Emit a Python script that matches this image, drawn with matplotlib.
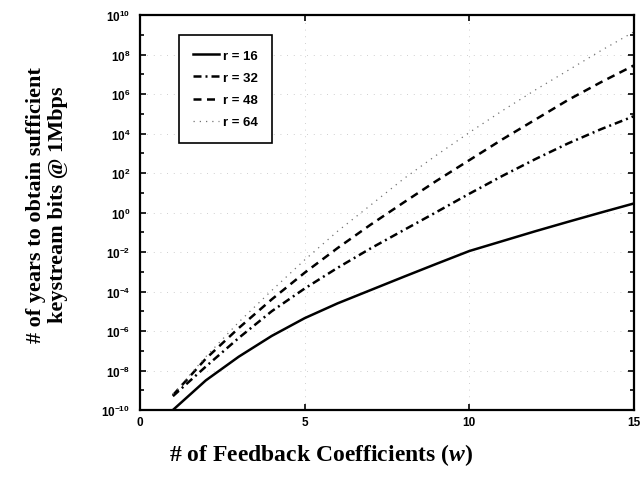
import numpy as np
import matplotlib
matplotlib.use('Agg')
import matplotlib.pyplot as plt

# values, as log10(years)
w = [1, 2, 3, 4, 5, 6, 7, 8, 9, 10, 11, 12, 13, 14, 15]
log_r16 = [-10.0, -8.5, -7.3, -6.25, -5.35, -4.6, -3.93, -3.26, -2.6, -1.95, -1.45, -0.95, -0.47, 0.0, 0.46]
log_r32 = [-9.3, -7.8, -6.35, -5.0, -3.85, -2.8, -1.82, -0.9, 0.02, 0.95, 1.85, 2.7, 3.5, 4.22, 4.88]
log_r48 = [-9.25, -7.4, -5.85, -4.4, -3.05, -1.8, -0.62, 0.5, 1.6, 2.65, 3.7, 4.7, 5.7, 6.6, 7.45]
log_r64 = [-9.2, -7.3, -5.55, -3.95, -2.4, -0.95, 0.37, 1.7, 2.9, 4.05, 5.15, 6.2, 7.2, 8.2, 9.15]
labels = ['r = 16', 'r = 32', 'r = 48', 'r = 64']

xticks = [0, 5, 10, 15]
ydec = list(range(-10, 11, 2))

plt.rcParams['mathtext.fontset'] = 'custom'
plt.rcParams['mathtext.rm'] = 'Liberation Sans'
plt.rcParams['mathtext.bf'] = 'Liberation Sans:bold'
plt.rcParams['mathtext.it'] = 'Liberation Serif:italic:bold'


def main():
    fig = plt.figure(figsize=(6.42, 4.81), dpi=100)
    ax = fig.add_axes([0.218, 0.1455, 0.7695, 0.8212])

    w_arr = np.array(w)
    ax.semilogy(w_arr, 10.0 ** np.array(log_r16), color='k', lw=1.8, ls='-', label=labels[0])
    ax.semilogy(w_arr, 10.0 ** np.array(log_r32), color='k', lw=1.8, ls=(0, (3.2, 1.6, 0.8, 1.6)), label=labels[1])
    ax.semilogy(w_arr, 10.0 ** np.array(log_r48), color='k', lw=1.8, ls=(0, (3.2, 2.2)), label=labels[2])
    ax.semilogy(w_arr, 10.0 ** np.array(log_r64), color='0.45', lw=0.9, ls=(0, (1, 4)), label=labels[3])

    ax.set_xlim(0, 15)
    ax.set_ylim(1e-10, 1e10)
    ax.set_xticks(xticks)
    ax.set_xticklabels([str(t) for t in xticks], fontweight='bold', fontsize=8.5, family='Liberation Sans')
    ax.set_yticks([10.0 ** d for d in ydec])
    ax.set_yticklabels([r'$\mathbf{10^{%d}}$' % d for d in ydec], fontsize=8.5)
    ax.set_yticks([10.0 ** d for d in range(-9, 10, 2)], minor=True)
    ax.set_yticklabels([], minor=True)
    ax.xaxis.set_minor_locator(matplotlib.ticker.NullLocator())
    ax.tick_params(which='both', direction='in', top=True, right=True, width=1.2)
    ax.tick_params(which='major', length=4, pad=4)
    ax.tick_params(axis='y', which='major', pad=7)
    ax.tick_params(which='minor', length=3)
    for s in ax.spines.values():
        s.set_linewidth(1.6)

    ax.grid(True, which='major', color='0.75', ls=(0, (1, 7)), lw=0.6)

    leg = ax.legend(loc='upper left', bbox_to_anchor=(0.079, 0.949), borderaxespad=0,
                    fancybox=False, edgecolor='k', framealpha=1, labelspacing=0.75,
                    handlelength=1.9, borderpad=1.1, handletextpad=0.3,
                    prop={'weight': 'bold', 'size': 9.5, 'family': 'Liberation Sans'})
    leg.get_frame().set_linewidth(1.2)

    fig.text(0.5, 0.054, r'# of Feedback Coefficients ($\mathit{w}$)', ha='center', va='center',
             family='Liberation Serif', fontweight='bold', fontsize=17)
    fig.text(0.056, 0.574, '# of years to obtain sufficient', ha='center', va='center',
             rotation=90, family='Liberation Serif', fontweight='bold', fontsize=16)
    fig.text(0.091, 0.574, 'keystream bits @ 1Mbps', ha='center', va='center',
             rotation=90, family='Liberation Serif', fontweight='bold', fontsize=16)

    fig.savefig('out.png', dpi=100)


if __name__ == '__main__':
    main()
